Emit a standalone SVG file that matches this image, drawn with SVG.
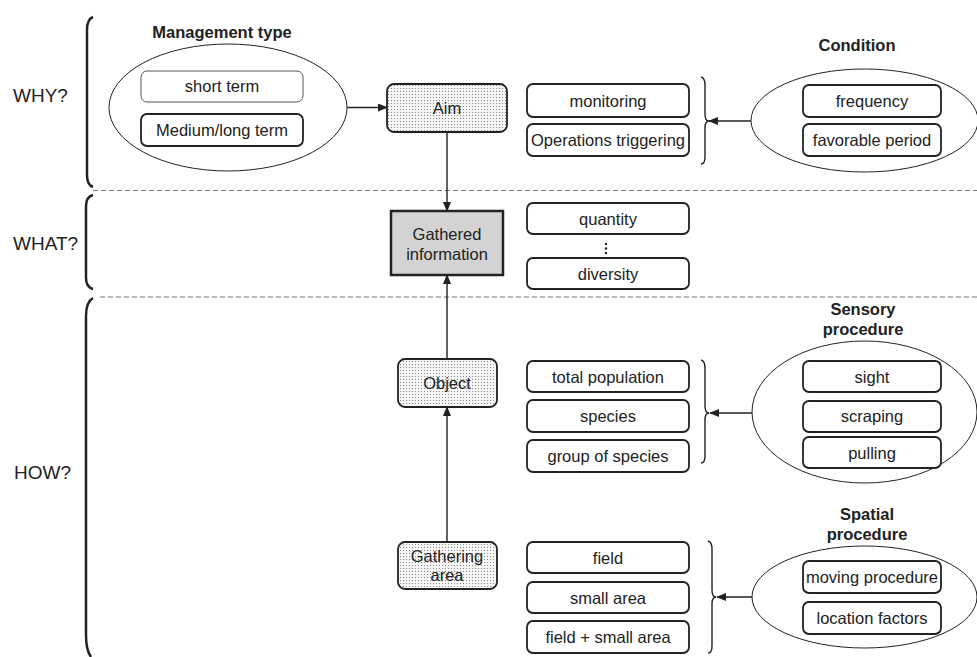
<svg xmlns="http://www.w3.org/2000/svg" width="977" height="657" viewBox="0 0 977 657">
<style>
text{font-family:"Liberation Sans",Arial,sans-serif;font-size:16.5px;fill:#222;text-anchor:middle}
.q{font-size:19px;text-anchor:start}
.b{font-weight:bold}
.box{fill:#fff;stroke:#222;stroke-width:1.8}
.thin{fill:#fff;stroke:#555;stroke-width:1}
.dot{fill:url(#dots);stroke:#222;stroke-width:1.8}
.ell{fill:none;stroke:#222;stroke-width:1}
.br{fill:none;stroke:#222;stroke-width:2.5}
.rb{fill:none;stroke:#222;stroke-width:1.4}
.dash{stroke:#777;stroke-width:1.2;stroke-dasharray:5,3;fill:none}
.ln{stroke:#222;stroke-width:1.4;fill:none;marker-end:url(#ah)}
</style>
<defs>
<pattern id="dots" width="3" height="3" patternUnits="userSpaceOnUse">
<rect width="3" height="3" fill="#f6f6f6"/>
<rect x="1" y="1" width="1" height="1" fill="#8a8a8a"/>
</pattern>
<marker id="ah" markerWidth="10" markerHeight="8" refX="9" refY="4" orient="auto" markerUnits="userSpaceOnUse">
<path d="M0,0 L10,4 L0,8 Z" fill="#222"/>
</marker>
</defs>

<g id="sections">
<path class="dash" d="M93,190.5 H977"/>
<path class="dash" d="M100,297 H977"/>
<path class="br" d="M93,17 Q87,19 87,30 V175 Q87,185 93,187"/>
<path class="br" d="M93,195 Q86,197 86,206 V278 Q86,287 93,289"/>
<path class="br" d="M93,298 Q86,302 86,316 V635 Q86,650 91,657"/>
<text class="q" x="13" y="102">WHY?</text>
<text class="q" x="13" y="250">WHAT?</text>
<text class="q" x="14" y="479">HOW?</text>
</g>

<g id="connectors">
<path class="ln" d="M347,107.5 H387"/>
<path class="ln" d="M447,132 V211"/>
<path class="ln" d="M447,359 V275"/>
<path class="ln" d="M447,542 V407"/>
<path class="ln" d="M751,121 H709"/>
<path class="ln" d="M752,413 H710"/>
<path class="ln" d="M752,597 H717"/>
<path class="rb" d="M701,77 Q705,78 705,85 V114 Q705,121 709,121 Q705,121 705,128 V157 Q705,164 701,164"/>
<path class="rb" d="M701,360 Q705,361 705,368 V406 Q705,413 709,413 Q705,413 705,420 V456 Q705,463 701,463"/>
<path class="rb" d="M708,541 Q712,542 712,549 V590 Q712,597 716,597 Q712,597 712,604 V646 Q712,653 708,653"/>
</g>

<g id="management">
<text class="b" x="222" y="38">Management type</text>
<ellipse class="ell" cx="228" cy="107.5" rx="119" ry="63.5"/>
<g id="short-term"><rect class="thin" x="141" y="71" width="162" height="31" rx="6"/><text x="222" y="92">short term</text></g>
<g id="medium-long-term"><rect class="box" x="141" y="114" width="162" height="32" rx="6"/><text x="222" y="136">Medium/long term</text></g>
</g>

<g id="aim"><rect class="dot" x="387" y="84" width="120" height="48" rx="7"/><text x="447" y="114">Aim</text></g>

<g id="monitoring"><rect class="box" x="527" y="84" width="162" height="33" rx="6"/><text x="608" y="107">monitoring</text></g>
<g id="operations-triggering"><rect class="box" x="527" y="124" width="162" height="32" rx="6"/><text x="608" y="146">Operations triggering</text></g>

<g id="condition">
<text class="b" x="857" y="51">Condition</text>
<ellipse class="ell" cx="864.5" cy="120.5" rx="113.5" ry="51.5"/>
<g id="frequency"><rect class="box" x="803" y="85" width="138" height="32" rx="6"/><text x="872" y="107">frequency</text></g>
<g id="favorable-period"><rect class="box" x="803" y="124" width="138" height="32" rx="6"/><text x="872" y="146">favorable period</text></g>
</g>

<g id="gathered-information">
<rect x="391" y="211" width="112" height="64" fill="#d3d3d3" stroke="#222" stroke-width="2.5"/>
<text x="447" y="240">Gathered</text>
<text x="447" y="260">information</text>
</g>

<g id="quantity"><rect class="box" x="527" y="203" width="162" height="31" rx="6"/><text x="608" y="225">quantity</text></g>
<g id="ellipsis"><circle cx="606" cy="244" r="1.2" fill="#222"/><circle cx="606" cy="248.5" r="1.2" fill="#222"/><circle cx="606" cy="253" r="1.2" fill="#222"/></g>
<g id="diversity"><rect class="box" x="527" y="258" width="162" height="31" rx="6"/><text x="608" y="280">diversity</text></g>

<g id="object"><rect class="dot" x="398" y="359" width="99" height="48" rx="7"/><text x="447" y="389">Object</text></g>

<g id="total-population"><rect class="box" x="527" y="361" width="162" height="31" rx="6"/><text x="608" y="383">total population</text></g>
<g id="species"><rect class="box" x="527" y="400" width="162" height="32" rx="6"/><text x="608" y="422">species</text></g>
<g id="group-of-species"><rect class="box" x="527" y="440" width="162" height="32" rx="6"/><text x="608" y="462">group of species</text></g>

<g id="sensory-procedure">
<text class="b" x="863" y="315">Sensory</text>
<text class="b" x="863" y="335">procedure</text>
<ellipse class="ell" cx="864.5" cy="412" rx="112.5" ry="71"/>
<g id="sight"><rect class="box" x="803" y="361" width="138" height="31" rx="6"/><text x="872" y="383">sight</text></g>
<g id="scraping"><rect class="box" x="803" y="401" width="138" height="31" rx="6"/><text x="872" y="422">scraping</text></g>
<g id="pulling"><rect class="box" x="803" y="437" width="138" height="31" rx="6"/><text x="872" y="459">pulling</text></g>
</g>

<g id="gathering-area"><rect class="dot" x="398" y="542" width="99" height="47" rx="7"/><text x="447" y="562">Gathering</text><text x="447" y="581">area</text></g>

<g id="field"><rect class="box" x="527" y="542" width="162" height="31" rx="6"/><text x="608" y="564">field</text></g>
<g id="small-area"><rect class="box" x="527" y="582" width="162" height="31" rx="6"/><text x="608" y="604">small area</text></g>
<g id="field-small-area"><rect class="box" x="527" y="621" width="162" height="32" rx="6"/><text x="608" y="643">field + small area</text></g>

<g id="spatial-procedure">
<text class="b" x="867" y="520">Spatial</text>
<text class="b" x="867" y="540">procedure</text>
<ellipse class="ell" cx="864.5" cy="597" rx="112.5" ry="51"/>
<g id="moving-procedure"><rect class="box" x="803" y="561" width="138" height="32" rx="6"/><text x="872" y="583">moving procedure</text></g>
<g id="location-factors"><rect class="box" x="803" y="602" width="138" height="32" rx="6"/><text x="872" y="624">location factors</text></g>
</g>
</svg>
